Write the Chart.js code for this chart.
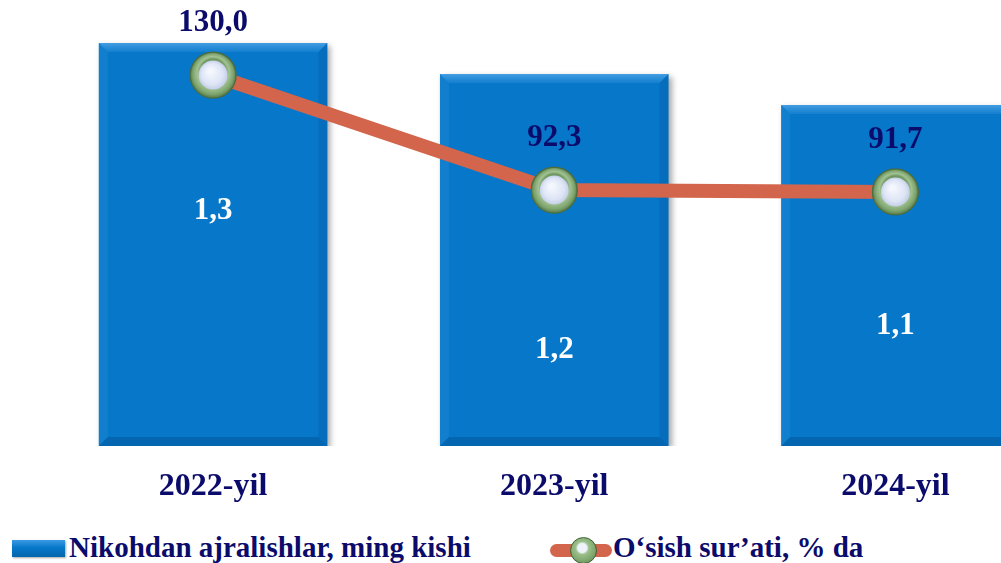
<!DOCTYPE html>
<html>
<head>
<meta charset="utf-8">
<script src="https://cdn.jsdelivr.net/npm/chart.js@4/dist/chart.umd.min.js"></script>
<style>
    html, body { margin: 0; padding: 0; background: #fff; overflow: hidden; }
    body { width: 1001px; height: 563px; position: relative; }
    #wrap { position: absolute; left: 0; top: 0; width: 1066px; height: 515px; }
    .lg-text {
        position: absolute; top: 531px; line-height: 32px;
        font: bold 29px "Liberation Serif", "Times New Roman", serif;
        color: #0b0b6b; white-space: nowrap;
    }
    #lg-bar {
        position: absolute; left: 12px; top: 540px; width: 53px; height: 17px;
        background: linear-gradient(#3c9ae4, #0677c9 45%, #0565ad);
        box-shadow: 1px 1px 2px rgba(0,0,0,0.35);
    }
    #lg-line {
        position: absolute; left: 550px; top: 544px; width: 62px; height: 13px;
        border-radius: 7px; background: #d2654b;
    }
    #lg-dot {
        position: absolute; left: 570px; top: 537px; width: 27px; height: 27px;
        border-radius: 50%; box-sizing: border-box;
        background: radial-gradient(circle at 45% 40%, #eef2fb 0 22%, #9cc08b 32%, #5d8a4e 95%);
        border: 1px solid #3f5f37;
    }
</style>
</head>
<body>
<div id="wrap"><canvas id="chart"></canvas></div>
<div id="lg-bar"></div>
<div class="lg-text" style="left:69px">Nikohdan ajralishlar, ming kishi</div>
<div id="lg-line"></div>
<div id="lg-dot"></div>
<div class="lg-text" style="left:613px">O‘sish sur’ati, % da</div>

<script>
// ---- Data ----------------------------------------------------------------
const YEARS    = ["2022-yil", "2023-yil", "2024-yil"];
const DIVORCES = [1.3, 1.2, 1.1];        // Nikohdan ajralishlar, ming kishi
const GROWTH   = [130.0, 92.3, 91.7];    // O'sish sur'ati, % da

// ---- Style ---------------------------------------------------------------
const NAVY      = "#0b0b6b";
const BAR_BLUE  = "#0677c9";
const LINE_RED  = "#d2654b";
const FONT      = '"Liberation Serif", "Times New Roman", serif';
const BAR_LABEL_DY  = [-34, 90, 50];     // label offset from bar middle, px
const LINE_LABEL_DY = -52;               // label offset above marker, px
const LINE_DS = 0, BAR_DS = 1;           // dataset indices

const fmt = (v) => v.toFixed(1).replace(".", ",");

// bevel + shadow for the bars
const bevelPlugin = {
    id: "bevel",
    beforeDatasetDraw(chart, args) {
        if (args.index !== BAR_DS) return;
        const c = chart.ctx;
        c.save();
        c.shadowColor = "rgba(0,0,0,0.35)";
        c.shadowBlur = 6;
        c.shadowOffsetX = 3;
        c.shadowOffsetY = 3;
    },
    afterDatasetDraw(chart, args) {
        if (args.index !== BAR_DS) return;
        const c = chart.ctx;
        c.restore();
        const b = 9;
        chart.getDatasetMeta(BAR_DS).data.forEach((el) => {
            const l = el.x - el.width / 2, r = el.x + el.width / 2;
            const t = el.y, btm = el.base;
            const quad = (pts, col) => {
                c.beginPath();
                c.moveTo(pts[0][0], pts[0][1]);
                for (let i = 1; i < pts.length; i++) c.lineTo(pts[i][0], pts[i][1]);
                c.closePath();
                c.fillStyle = col;
                c.fill();
            };
            const tg = c.createLinearGradient(0, t, 0, t + b);
            tg.addColorStop(0, "rgba(120,190,245,0.55)");
            tg.addColorStop(1, "rgba(80,165,235,0.2)");
            quad([[l, t], [r, t], [r - b, t + b], [l + b, t + b]], tg);
            quad([[l, t], [l + b, t + b], [l + b, btm - b], [l, btm]], "rgba(90,170,235,0.15)");
            quad([[r, t], [r, btm], [r - b, btm - b], [r - b, t + b]], "rgba(0,40,90,0.12)");
            quad([[l, btm], [l + b, btm - b], [r - b, btm - b], [r, btm]], "rgba(0,40,90,0.22)");
        });
    },
};

// marker rings + value labels
const labelPlugin = {
    id: "labels",
    afterDatasetsDraw(chart) {
        const c = chart.ctx;
        c.save();
        // marker shading over the library-drawn points
        chart.getDatasetMeta(LINE_DS).data.forEach((pt) => {
            const rg = c.createRadialGradient(pt.x, pt.y - 4, 12, pt.x, pt.y, 23);
            rg.addColorStop(0, "#6f9760");
            rg.addColorStop(0.35, "#a2c293");
            rg.addColorStop(0.75, "#7ea46e");
            rg.addColorStop(1, "#557a48");
            c.beginPath();
            c.arc(pt.x, pt.y, 23, 0, Math.PI * 2);
            c.fillStyle = rg;
            c.fill();
            c.strokeStyle = "#4b6b40";
            c.lineWidth = 1.2;
            c.stroke();
            const g = c.createRadialGradient(pt.x - 3, pt.y - 4, 2, pt.x, pt.y, 14.5);
            g.addColorStop(0, "#f4f7fd");
            g.addColorStop(0.7, "#dde4f5");
            g.addColorStop(1, "#c4cfe6");
            c.beginPath();
            c.arc(pt.x, pt.y, 14.5, 0, Math.PI * 2);
            c.fillStyle = g;
            c.fill();
        });

        c.textAlign = "center";
        c.textBaseline = "middle";
        c.font = "bold 31px " + FONT;
        c.fillStyle = "#ffffff";
        chart.getDatasetMeta(BAR_DS).data.forEach((el, i) => {
            c.fillText(fmt(DIVORCES[i]), el.x, (el.y + el.base) / 2 + BAR_LABEL_DY[i]);
        });
        c.fillStyle = NAVY;
        chart.getDatasetMeta(LINE_DS).data.forEach((pt, i) => {
            c.fillText(fmt(GROWTH[i]), pt.x, pt.y + LINE_LABEL_DY);
        });
        c.restore();
    },
};

new Chart(document.getElementById("chart"), {
    data: {
        labels: YEARS,
        datasets: [
            {
                type: "line",
                label: "O‘sish sur’ati, % da",
                data: GROWTH,
                yAxisID: "y1",
                borderColor: LINE_RED,
                borderWidth: 14,
                pointRadius: 18.75,
                pointBorderWidth: 8.5,
                pointBorderColor: "#86aa76",
                pointBackgroundColor: "#dce4f4",
                pointHoverRadius: 18.75,
                order: 0,
            },
            {
                type: "bar",
                label: "Nikohdan ajralishlar, ming kishi",
                data: DIVORCES,
                yAxisID: "y",
                backgroundColor: BAR_BLUE,
                barPercentage: 0.67,
                categoryPercentage: 1,
                order: 1,
            },
        ],
    },
    options: {
        responsive: true,
        maintainAspectRatio: false,
        animation: false,
        layout: { autoPadding: false, padding: { left: 42.5, right: 0, top: 0, bottom: 0 } },
        plugins: { legend: { display: false }, tooltip: { enabled: false } },
        scales: {
            x: {
                grid: { display: false, drawTicks: false },
                border: { display: false },
                ticks: {
                    color: NAVY,
                    padding: 22,
                    font: { family: FONT, size: 32, weight: "bold" },
                },
                afterFit: (s) => { s.height = 69; },
            },
            y:  { display: false, min: 0, max: 1.439 },
            y1: { display: false, min: 8.4, max: 154.6, position: "right" },
        },
    },
    plugins: [bevelPlugin, labelPlugin],
});
</script>
</body>
</html>
